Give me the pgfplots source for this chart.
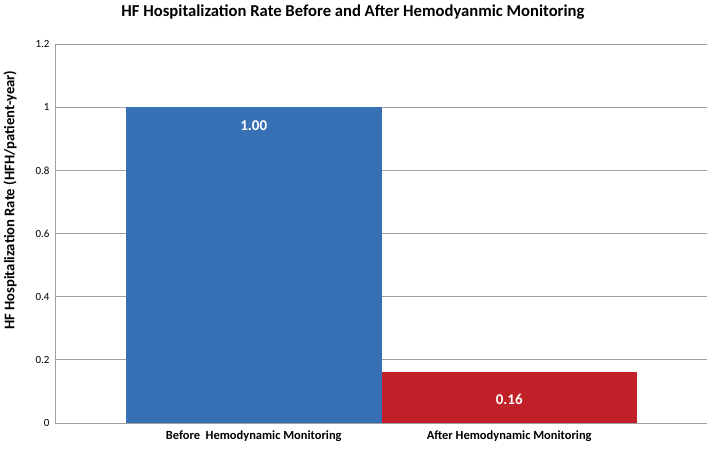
\documentclass[border=0pt]{standalone}
\usepackage{pgfplots}
\pgfplotsset{compat=1.18}
\usepackage{fontspec}
\setmainfont{Carlito}
\definecolor{barblue}{RGB}{56,112,182}
\definecolor{barred}{RGB}{192,32,40}
\definecolor{gridgray}{RGB}{160,160,160}
\begin{document}
\begin{tikzpicture}[x=1bp,y=1bp]
\useasboundingbox (-55bp,-31bp) rectangle (654bp,423bp);
\begin{axis}[
  at={(0,0)}, anchor=south west,
  scale only axis, width=652bp, height=379bp,
  ymin=0, ymax=1.2, ytick={0,0.2,...,1.2},
  yticklabels={0,0.2,0.4,0.6,0.8,1,1.2},
  xmin=-0.778, xmax=1.774,
  xtick={0,1},
  xticklabels={Before\ \ Hemodynamic Monitoring, After Hemodynamic Monitoring},
  xticklabel style={font=\fontsize{12.5}{14}\selectfont\bfseries, yshift=-4bp},
  yticklabel style={font=\fontsize{11}{13}\selectfont, xshift=-2bp},
  /pgf/number format/assume math mode=true,
  major tick length=0pt,
  axis line style={gridgray, line width=0.8pt},
  axis x line*=bottom, axis y line*=left,
  ymajorgrids, grid style={gridgray, line width=0.8pt},
  ylabel={HF Hospitalization Rate (HFH/patient-year)},
  every axis y label/.style={at={(axis description cs:-0.069,0.588)}, rotate=90, anchor=center, font=\fontsize{14.7}{16}\selectfont\bfseries},
  title={HF Hospitalization Rate Before and After Hemodyanmic Monitoring},
  title style={font=\fontsize{16.7}{20}\selectfont\bfseries, at={(0.457,1.068)}, anchor=center},
  clip=false,
  ybar, bar width=1, bar shift=0pt,
]
\addplot[fill=barblue, draw=none] coordinates {(0,1.00)};
\addplot[fill=barred, draw=none] coordinates {(1,0.16)};
\node[font=\fontsize{15}{17}\selectfont\bfseries, text=white] at (axis cs:0,0.943) {1.00};
\node[font=\fontsize{15}{17}\selectfont\bfseries, text=white] at (axis cs:1,0.073) {0.16};
\end{axis}
\end{tikzpicture}
\end{document}
